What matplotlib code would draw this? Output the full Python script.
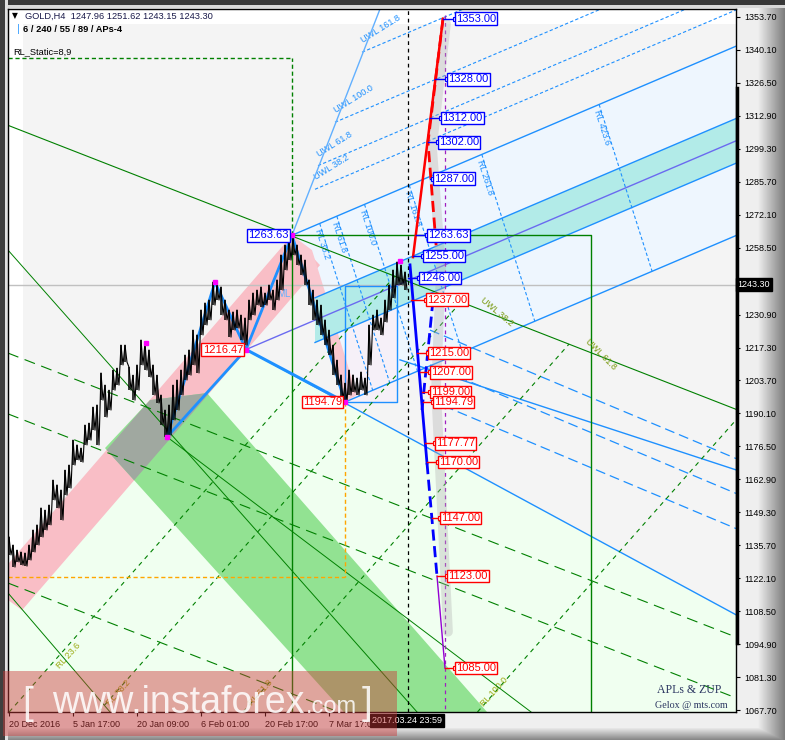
import numpy as np
import matplotlib
matplotlib.use("Agg")
import matplotlib.pyplot as plt
from matplotlib.patches import Polygon, Rectangle

plt.rcParams['font.family'] = ['Liberation Sans', 'DejaVu Sans']

# ---------------- data ----------------
hi = [1139.1,1135.8,1133.7,1132.9,1132.5,1135.8,1142.0,1144.1,1151.1,1150.2,
      1152.3,1162.6,1160.6,1158.5,1166.7,1168.8,1179.1,1177.1,1175.8,1185.3,
      1186.1,1192.7,1193.6,1206.8,1201.8,1199.7,1208.0,1208.8,1218.3,1218.3,
      1209.2,1205.9,1210.1,1220.4,1219.2,1216.3,1210.1,1205.9,1197.7,1191.5,
      1193.6,1201.8,1203.9,1208.0,1214.2,1216.3,1224.5,1222.5,1232.8,1235.7,
      1236.9,1244.3,1243.1,1242.3,1236.9,1232.8,1232.0,1232.8,1230.7,1229.5,
      1236.9,1239.8,1241.0,1242.3,1239.8,1243.1,1241.0,1245.2,1255.5,1259.6,
      1262.9,1262.5,1259.6,1255.5,1253.4,1245.2,1241.0,1236.9,1234.8,1228.7,
      1224.5,1218.3,1212.1,1206.0,1202.6,1208.0,1206.0,1204.7,1207.2,1204.7,
      1226.6,1230.7,1232.8,1229.5,1236.9,1243.1,1249.3,1252.6,1251.3,1248.5]
lo = [1131.7,1126.7,1128.8,1127.5,1127.1,1129.6,1132.9,1135.8,1139.1,1142.0,
      1144.1,1154.4,1151.1,1146.1,1156.4,1159.3,1168.8,1170.9,1170.0,1177.1,
      1179.1,1183.2,1177.1,1195.6,1188.6,1191.5,1199.7,1201.8,1210.1,1211.3,
      1199.7,1195.6,1199.7,1210.1,1208.0,1205.1,1197.7,1194.4,1185.3,1180.4,
      1181.2,1187.4,1191.5,1197.7,1203.9,1205.9,1210.1,1206.8,1222.5,1226.6,
      1228.7,1234.8,1236.9,1230.7,1228.7,1221.6,1224.5,1225.3,1220.4,1218.3,
      1228.7,1230.7,1234.8,1234.0,1234.8,1236.9,1232.8,1236.9,1241.0,1249.3,
      1253.4,1255.5,1251.3,1247.2,1243.1,1234.8,1228.7,1226.6,1222.5,1218.3,
      1214.2,1206.0,1201.8,1195.6,1194.8,1197.7,1198.9,1197.7,1199.7,1197.7,
      1210.1,1224.5,1224.5,1222.5,1227.8,1232.8,1237.7,1243.1,1243.1,1241.2]
bars = list(range(0, 4 * len(hi), 4))
last_price = 1243.30
header = "GOLD,H4  1247.96 1251.62 1243.15 1243.30"
subheader = "6 / 240 / 55 / 89 / APs-4"

ytick_vals = [1353.70, 1340.10, 1326.50, 1312.90, 1299.30, 1285.70, 1272.10, 1258.50,
              1230.90, 1217.30, 1203.70, 1190.10, 1176.50, 1162.90, 1149.30, 1135.70,
              1122.10, 1108.50, 1094.90, 1081.30, 1067.70]
xtick_bars = [0, 64, 128, 192, 256, 320]
xtick_labels = ["20 Dec 2016", "5 Jan 17:00", "20 Jan 09:00", "6 Feb 01:00",
                "20 Feb 17:00", "7 Mar 17:00"]
cursor_bar = 398
cursor_label = "2017.03.24 23:59"

# swing pivots (bar, price)
piv_bar = [137, 158, 206, 237, 283, 336, 391]
piv_price = [1219.2, 1180.4, 1244.3, 1216.47, 1263.63, 1194.79, 1253.0]
zig_bar = [158, 206, 237, 283, 336]
zig_price = [1180.4, 1244.3, 1216.47, 1263.63, 1194.79]
A = (237, 1216.47)
B = (283, 1263.63)
C = (336, 1194.79)
fork_fill_levels = [0.236]
uwl_levels = [38.2, 61.8, 100.0, 161.8]
uwl_start = [306, 309, 326, 353]
rl_levels = [38.2, 61.8, 100.0, 161.8, 261.8, 423.6]

# bands (bar, price)
pink_band = [(283, 1263.63), (311, 1251.3), (13, 1108.9), (-1, 1113.1), (-1, 1127.9)]
pink_strip = [(283, 1263.63), (303, 1257.5), (348, 1197.7), (336, 1194.79)]
green_band = [(96, 1175.8), (141, 1195.6), (198, 1198.5), (485, 1063.6), (342, 1063.6)]
pale_green = [(-1, 1060), (-1, 1113.1), (13, 1108.9), (237, 1216.47), (727, 1106.9), (727, 1060)]

# green lines
green_top = ([-1, 727], [1309.0, 1191.8])
green_dash = [([-1, 727], [1215.0, 1097.8]), ([-1, 727], [1189.9, 1072.7]),
              ([-1, 727], [1120.1, 1002.9])]
green_rl = [([0.2, 386], [1066.9, 1246.8]), ([89.5, 452], [1066.9, 1236.1]),
            ([234.3, 560], [1066.9, 1218.7]), ([468.5, 727], [1066.9, 1187.4])]
green_rl_names = ["RL 23.6", "RL 38.2", "RL 61.8", "RL 100.0"]
green_rl_lab = [(60, 1090), (110, 1075), (252, 1075), (485, 1075)]
green_thin = [([-1, 408], [1257.5, 1066.9]), ([158, 522], [1180.4, 1066.9]),
              ([-1, 101], [1116.0, 1066.9])]
green_rect_top = 1263.63
green_rect_right = 582
static_level = 1336.8
orange_level = 1122.6

# descending blue lines
blue_desc_solid = [([237, 727], [1216.47, 1107.0]), ([391, 727], [1212.2, 1166.8])]
blue_desc_dash = [([421, 727], [1224.5, 1171.5]), ([421, 727], [1210.1, 1157.1]),
                  ([421, 727], [1195.6, 1142.6])]
blue_box = (336, 388, 1194.8, 1242.7)

# ZUP projections
red_solid = ([404, 434], [1254.6, 1353.0])
red_dash = ([434, 419, 428], [1353.0, 1302.0, 1255.0])
blue_solid = ([401, 418], [1251.4, 1169.6])
blue_dash1 = ([424, 413], [1236.9, 1191.5])
blue_dash2 = ([418, 428], [1169.6, 1123.0])
violet_line = ([428, 436], [1123.0, 1085.0])
shadow = ([437, 423, 432, 427, 433, 439], [1351, 1300, 1250, 1200, 1150, 1100])

blue_vals = [1353.00, 1328.00, 1312.00, 1302.00, 1287.00, 1263.63, 1255.00, 1246.00]
blue_box_bar = [447, 439, 433, 430, 425, 419, 415, 411]
blue_conn_bar = [434, 426, 421, 419, 421, 407, 404, 399]
red_vals = [1237.00, 1215.00, 1207.00, 1199.00, 1194.79, 1177.77, 1170.00, 1147.00, 1123.00, 1085.00]
red_box_bar = [418, 420, 422, 422, 425, 427, 430, 432, 439, 447]
red_conn_bar = [402, 408, 411, 413, 414, 416, 418, 423, 428, 436]

# ---------------- figure ----------------
W, H = 785, 740
fig = plt.figure(figsize=(W / 100, H / 100), dpi=100)

bg = np.full((H, W, 3), 0.94)
bg[:5, :, :] = 0.22
bg[5:8, :, :] = 0.85
bg[:, :5, :] = 0.25
bg[:, 5:8, :] = 0.88
for c in range(758, W):
    t = (c - 758) / (W - 758)
    bg[8:, c, :] = np.minimum(bg[8:, c, :], 0.93 - 0.45 * t)
for r in range(728, H):
    t = (r - 728) / (H - 728)
    bg[r, 8:, :] = np.minimum(bg[r, 8:, :], 0.9 - 0.4 * t)
axbg = fig.add_axes([0, 0, 1, 1])
axbg.imshow(bg, aspect='auto', interpolation='nearest')
axbg.axis('off')

ax = fig.add_axes([8 / W, 28 / H, 728 / W, 703 / H])
ax.set_facecolor('white')
ax.set_xlim(-1, 727)
ax.set_ylim(1066.88, 1357.0)
for s in ax.spines.values():
    s.set_color('black')
    s.set_linewidth(1)

# backgrounds
ax.add_patch(Rectangle((14, 1060), 727 - 14, 1350.8 - 1060, fc='#f4f4f4', ec='none', zorder=0.1))
ax.add_patch(Polygon(pale_green, closed=True, fc='#f0fff0', ec='none', zorder=0.2))

# pitchfork geometry
xr = 727
Mb, Mp = (B[0] + C[0]) / 2, (B[1] + C[1]) / 2
k = (Mp - A[1]) / (Mb - A[0])
def med(b):
    return A[1] + k * (b - A[0])
d = B[1] - med(B[0])
def upper(b):
    return B[1] + k * (b - B[0])
def lower(b):
    return C[1] + k * (b - C[0])

chan = [B, (xr, upper(xr)), (xr, lower(xr)), C]
ax.add_patch(Polygon(chan, closed=True, fc='#eef6fe', ec='none', zorder=0.3))
ax.add_patch(Rectangle((336, 1194.8), 52, 47.9, fc='#f6f0f8', ec='none', zorder=0.35))

pink = Polygon(pink_band, closed=True, fc='#f9bec6', ec='none', zorder=0.5)
ax.add_patch(pink)
ax.add_patch(Polygon(pink_strip, closed=True, fc='#f9c8d0', ec='none', zorder=0.5))
ax.add_patch(Polygon(green_band, closed=True, fc='#92e292', ec='none', zorder=0.5))
gray = Polygon(green_band, closed=True, fc='#a0a8a0', ec='none', zorder=0.6)
ax.add_patch(gray)
gray.set_clip_path(pink)

# cyan band around median
cb0 = 306
w = fork_fill_levels[0] * d
cyan = [(cb0, med(cb0) + w), (xr, med(xr) + w), (xr, med(xr) - w), (cb0, med(cb0) - w)]
ax.add_patch(Polygon(cyan, closed=True, fc='#b2ebe8', ec='none', zorder=0.7))

LB = '#1e90ff'
# fork lines
ax.plot([A[0], xr], [med(A[0]), med(xr)], color='#6a6af0', lw=1, zorder=2)
ax.plot([B[0], xr], [upper(B[0]), upper(xr)], color=LB, lw=1, zorder=2)
ax.plot([C[0], xr], [lower(C[0]), lower(xr)], color=LB, lw=1, zorder=2)
ax.plot([cb0, xr], [med(cb0) + w, med(xr) + w], color=LB, lw=1, zorder=2)
ax.plot([cb0, xr], [med(cb0) - w, med(xr) - w], color=LB, lw=1, zorder=2)
for lvl, sb in zip(uwl_levels, uwl_start):
    p0 = med(sb) + d * (1 + lvl / 100)
    p1 = med(xr) + d * (1 + lvl / 100)
    ax.plot([sb, xr], [p0, p1], color=LB, lw=0.8, ls=(0, (3, 2)), zorder=2)
    ax.text(sb + 2, p0 + 3, "UWL %.1f" % lvl, color=LB, fontsize=6.5, rotation=32,
            ha='left', va='bottom', rotation_mode='anchor', zorder=2)
s_bc = (C[1] - B[1]) / (C[0] - B[0])
for lvl in rl_levels:
    bm = Mb + lvl / 100 * (Mb - A[0])
    pm = med(bm)
    bu = (B[1] - k * B[0] - pm + s_bc * bm) / (s_bc - k)
    bl = (C[1] - k * C[0] - pm + s_bc * bm) / (s_bc - k)
    pu = pm + s_bc * (bu - bm)
    pl = pm + s_bc * (bl - bm)
    ax.plot([bu, bl], [pu, pl], color=LB, lw=0.8, ls=(0, (3, 2)), zorder=2)
    ax.text(bu + 2, pu - 2, "RL %.1f" % lvl, color=LB, fontsize=6.5, rotation=-72,
            ha='left', va='top', rotation_mode='anchor', zorder=2)
ax.plot([B[0], 371], [B[1], 1357.0], color='#62b0ff', lw=1, zorder=2)

# descending blue lines
for xs, ys in blue_desc_solid:
    ax.plot(xs, ys, color=LB, lw=1, zorder=2)
for xs, ys in blue_desc_dash:
    ax.plot(xs, ys, color=LB, lw=0.9, ls=(0, (8, 4)), zorder=2)
bx0, bx1, by0, by1 = blue_box
ax.plot([bx0, bx1, bx1, bx0, bx0], [by0, by0, by1, by1, by0], color=LB, lw=1, zorder=2)

# green lines
G = '#008000'
ax.plot(*green_top, color=G, lw=0.8, zorder=2)
for xs, ys in green_dash:
    ax.plot(xs, ys, color=G, lw=0.8, ls=(0, (10, 6)), zorder=2)
for (xs, ys), name, (lx, ly) in zip(green_rl, green_rl_names, green_rl_lab):
    ax.plot(xs, ys, color=G, lw=0.8, ls=(0, (4, 4)), zorder=2)
    ax.text(lx, ly, name, color='#9aaa10', fontsize=6.5, rotation=48, ha='center',
            va='center', zorder=2)
for xs, ys in green_thin:
    ax.plot(xs, ys, color=G, lw=0.7, zorder=2)
ax.plot([B[0], green_rect_right, green_rect_right], [green_rect_top, green_rect_top, 1060],
        color=G, lw=1, zorder=2)
ax.plot([B[0], B[0]], [green_rect_top, 1060], color=G, lw=1, zorder=2)
ax.plot([B[0], B[0]], [green_rect_top, static_level], color=G, lw=1, ls=(0, (3, 2)), zorder=2)
ax.plot([-1, B[0]], [static_level, static_level], color=G, lw=1, ls=(0, (3, 2)), zorder=2)
ax.text(470, 1226, "UWL 38.2", color='#7a9a10', fontsize=6.5, rotation=-40, zorder=2)
ax.text(575, 1208, "UWL 61.8", color='#7a9a10', fontsize=6.5, rotation=-45, zorder=2)

# orange dashed
ax.plot([-1, C[0]], [orange_level, orange_level], color='#ffa500', lw=1, ls=(0, (3, 2)), zorder=2)
ax.plot([C[0], C[0]], [C[1], orange_level], color='#ffa500', lw=1, ls=(0, (3, 2)), zorder=2)

# current price line and cursor
ax.axhline(last_price, color='#c0c0c0', lw=1, zorder=1.5)
ax.axvline(cursor_bar + 1, color='black', lw=0.9, ls=(0, (3, 3)), zorder=2)
ax.plot([436, 436], [1354.5, 1060], color='#a020c0', lw=0.9, ls=(0, (3, 3)), zorder=2)

# zigzag
ax.plot(zig_bar, zig_price, color=LB, lw=2, zorder=2.5)
ax.plot([158, 237], [1180.4, 1216.47], color=LB, lw=2, zorder=2.5)
ax.plot([237, 336], [1216.47, 1194.79], color=LB, lw=2.2, zorder=2.5)

# candles
zx, zy = [], []
for b, h, l in zip(bars, hi, lo):
    zx += [b, b + 2]
    zy += [h, l]
ax.vlines(bars, lo, hi, color='black', lw=1.1, zorder=3)
ax.plot(zx, zy, color='black', lw=0.8, zorder=3)
ax.plot(piv_bar, piv_price, ls='none', marker='s', ms=3, color='#ff00ff', zorder=3.5)

# ZUP projections
ax.plot(*shadow, color='#b0b0b0', lw=7, alpha=0.35, solid_capstyle='round', zorder=2.6)
ax.plot(*red_solid, color='red', lw=1.8, zorder=3)
ax.plot(*red_dash, color='red', lw=2, ls=(0, (4, 2)), zorder=3)
ax.plot(*blue_solid, color='#0000ff', lw=2, zorder=3)
ax.plot(*blue_dash1, color='#0000ff', lw=2, ls=(0, (4, 2)), zorder=3)
ax.plot(*blue_dash2, color='#0000ff', lw=2, ls=(0, (4, 2)), zorder=3)
ax.plot(*violet_line, color='#9400d3', lw=1, zorder=3)

def plabel(bx, price, txt, col, cb):
    ax.plot([cb, bx - 1], [price, price], color=col, lw=1, zorder=4)
    ax.plot([bx - 1], [price], marker='s', ms=3, mfc='white', mec=col, mew=0.8, zorder=4)
    ax.text(bx, price, txt, color=col, fontsize=8, ha='left', va='center',
            bbox=dict(boxstyle='square,pad=0.12', fc='white', ec=col, lw=1), zorder=5)

for v, bb, cbb in zip(blue_vals, blue_box_bar, blue_conn_bar):
    plabel(bb, v, "%.2f" % v, '#0000ff', cbb)
for v, bb, cbb in zip(red_vals, red_box_bar, red_conn_bar):
    plabel(bb, v, "%.2f" % v, '#ff0000', cbb)

def llabel(bx, price, txt, col):
    ax.text(bx, price, txt, color=col, fontsize=8, ha='right', va='center',
            bbox=dict(boxstyle='square,pad=0.12', fc='white', ec=col, lw=1), zorder=5)
llabel(280, 1263.63, "1263.63", '#0000ff')
llabel(234, 1216.47, "1216.47", '#ff0000')
llabel(333, 1194.79, "1194.79", '#ff0000')
ax.text(268, 1238, "ML", color='#62b0ff', fontsize=7, zorder=2)

# axes ticks
ax.yaxis.tick_right()
ax.set_yticks(ytick_vals)
ax.set_yticklabels(["%.2f" % v for v in ytick_vals])
ax.tick_params(axis='y', direction='out', length=3, pad=3, labelsize=6.5, colors='black')
ax.set_xticks(xtick_bars)
ax.set_xticklabels(xtick_labels)
for lbl in ax.get_xticklabels():
    lbl.set_ha('left')
ax.tick_params(axis='x', direction='out', length=3, pad=3, labelsize=6.5, colors='black')

ax.text(1.002, last_price, "%.2f" % last_price, transform=ax.get_yaxis_transform(),
        color='white', fontsize=6.5, ha='left', va='center', clip_on=False,
        bbox=dict(boxstyle='square,pad=0.2', fc='black', ec='black'), zorder=6)
ax.text(cursor_bar, -0.006, cursor_label, transform=ax.get_xaxis_transform(),
        color='white', fontsize=6.5, ha='center', va='top', clip_on=False,
        bbox=dict(boxstyle='square,pad=0.2', fc='black', ec='black'), zorder=6)
ax.plot([727.6, 727.6], [1324.4, 1095.4], color='black', lw=2.5, clip_on=False, zorder=6)

# header texts
fig.text(12 / W, 1 - 16 / H, "\u25bc", fontsize=5.5, color='black', va='center', family='DejaVu Sans')
fig.text(25 / W, 1 - 16 / H, header, fontsize=6.7, color='#1a1a4a', va='center')
fig.text(17 / W, 1 - 29 / H, "|", fontsize=8, color='#3aa0ff', va='center')
fig.text(23 / W, 1 - 29 / H, subheader, fontsize=6.7, color='black', va='center', weight='bold')
fig.text(13 / W, 1 - 52 / H, "RL_Static=8,9", fontsize=6.7, color='black', va='center')

fig.text(689 / W, 1 - 690 / H, "APLs & ZUP", fontsize=8.5, family='Liberation Serif',
         color='#2a3560', ha='center', va='center')
fig.text(691 / W, 1 - 705 / H, "Gelox @ mts.com", fontsize=7.2, family='Liberation Serif',
         color='#2a3560', ha='center', va='center')

# watermark
fig.patches.append(Rectangle((3 / W, 4 / H), 394 / W, 65 / H, transform=fig.transFigure,
                             fc=(0.80, 0.22, 0.22, 0.45), ec='none', zorder=7))
fig.text(22 / W, 1 - 714 / H, "[", fontsize=28, color='white', alpha=0.85, va='baseline', zorder=8)
fig.text(52 / W, 1 - 713 / H, "www.instaforex", fontsize=27, color='white', alpha=0.85,
         va='baseline', zorder=8)
fig.text(306 / W, 1 - 713 / H, ".com", fontsize=17, color='white', alpha=0.85,
         va='baseline', zorder=8)
fig.text(362 / W, 1 - 714 / H, "]", fontsize=28, color='white', alpha=0.85, va='baseline', zorder=8)

fig.savefig("out.png", dpi=100)
